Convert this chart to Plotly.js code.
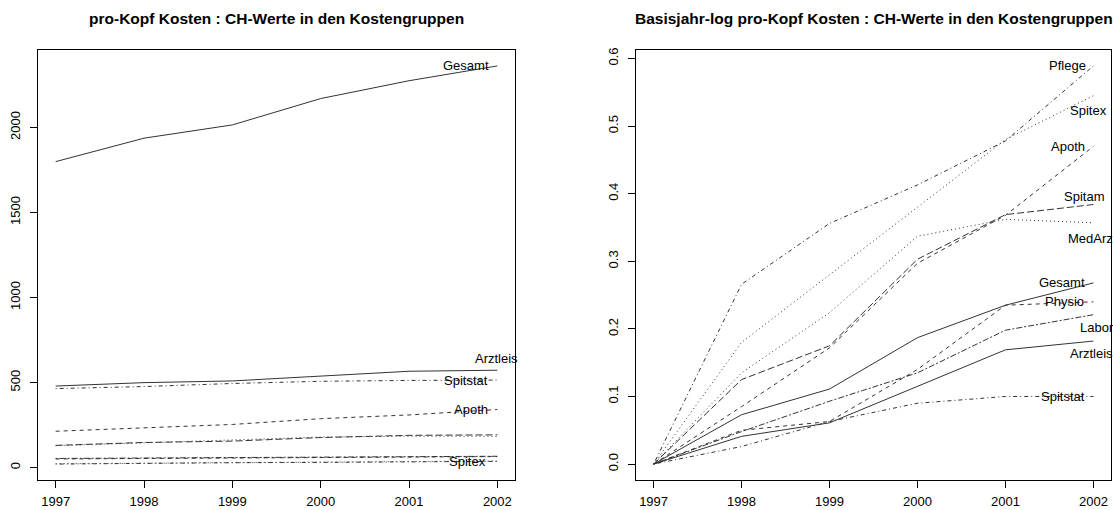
<!DOCTYPE html>
<html>
<head>
<meta charset="utf-8">
<script src="https://cdn.plot.ly/plotly-3.0.1.min.js"></script>
<style>html,body{margin:0;padding:0;background:#fff}#chart{width:1113px;height:510px}</style>
</head>
<body>
<div id="chart"></div>
<script>
// ---- data ----
const years = [1997, 1998, 1999, 2000, 2001, 2002];
const seriesNames = ["Gesamt","Arztleis","Spitstat","Apoth","Spitam","MedArz","Physio","Labor","Pflege","Spitex"];

// left panel: per-capita costs (CHF)
const costGesamt   = [1799, 1937, 2015, 2170, 2275, 2362];
const costArztleis = [479, 499, 509, 537, 566, 572];
const costSpitstat = [464, 476, 494, 507, 512, 514];
const costApoth    = [213, 232, 253, 287, 309, 341];
const costSpitam   = [130, 147, 155, 176, 189, 192];
const costMedArz   = [128, 146, 160, 179, 184, 183];
const costPhysio   = [50, 53, 53, 57, 63, 64];
const costLabor    = [53, 56, 58, 61, 65, 66];
const costPflege   = [20, 26, 28, 30, 32, 36];
const costSpitex   = [22, 26, 29, 32, 36, 38];

// right panel: log growth relative to base year
const logGesamt   = [0, 0.073, 0.111, 0.187, 0.235, 0.268];
const logArztleis = [0, 0.041, 0.061, 0.115, 0.169, 0.182];
const logSpitstat = [0, 0.026, 0.063, 0.090, 0.100, 0.100];
const logApoth    = [0, 0.085, 0.172, 0.297, 0.368, 0.470];
const logSpitam   = [0, 0.125, 0.175, 0.303, 0.369, 0.384];
const logMedArz   = [0, 0.135, 0.224, 0.337, 0.362, 0.357];
const logPhysio   = [0, 0.050, 0.063, 0.140, 0.235, 0.240];
const logLabor    = [0, 0.048, 0.093, 0.135, 0.198, 0.221];
const logPflege   = [0, 0.266, 0.356, 0.413, 0.478, 0.589];
const logSpitex   = [0, 0.180, 0.280, 0.380, 0.480, 0.545];

const leftTicks = [0, 500, 1000, 1500, 2000];
const rightTicks = [0, 0.1, 0.2, 0.3, 0.4, 0.5, 0.6];
const leftLabelled = ["Gesamt","Arztleis","Spitstat","Apoth","Spitex"];

const leftData = [costGesamt,costArztleis,costSpitstat,costApoth,costSpitam,costMedArz,costPhysio,costLabor,costPflege,costSpitex];
const rightData = [logGesamt,logArztleis,logSpitstat,logApoth,logSpitam,logMedArz,logPhysio,logLabor,logPflege,logSpitex];

// ---- styles ----
const dashes = {
  Gesamt:"solid", Arztleis:"solid", Spitstat:"1px,3px,4px,3px", Apoth:"4px,4px",
  Spitam:"7px,3px", MedArz:"1px,3px", Physio:"4px,4px", Labor:"2px,2px,6px,2px",
  Pflege:"1px,3px,4px,3px", Spitex:"1px,3px"
};
// label placement: [xanchor, xshift, yshift]
const leftLabelPos = {
  Gesamt:["right",-6,0], Arztleis:["left",-24,12], Spitstat:["right",-7,0],
  Apoth:["right",-7,0], Spitex:["right",-9,0]
};
const rightLabelPos = {
  Pflege:["right",-5,0], Spitex:["left",-25,-15], Apoth:["right",-6,0],
  Spitam:["left",-31,8], MedArz:["left",-27,-16], Gesamt:["right",-6,0],
  Physio:["right",-7,0], Labor:["left",-15,-13], Arztleis:["left",-25,-12],
  Spitstat:["right",-6,0]
};

const FONT = "Liberation Sans, Arial, sans-serif";
const W = 1113, H = 510;
const box = {l1:38, r1:515, l2:636, r2:1111, top:50, bottom:480};

function rRange(arrs) {
  let mn = Infinity, mx = -Infinity;
  arrs.forEach(a => a.forEach(v => { mn = Math.min(mn, v); mx = Math.max(mx, v); }));
  const s = mx - mn;
  return [mn - 0.04 * s, mx + 0.04 * s];
}
const xr = [years[0] - 0.04 * (years[5] - years[0]), years[5] + 0.04 * (years[5] - years[0])];

const traces = [];
const annotations = [];
seriesNames.forEach((name, i) => {
  const line = {color:"#333", width:1, dash:dashes[name]};
  traces.push({x:years, y:leftData[i], type:"scatter", mode:"lines", line:line, xaxis:"x", yaxis:"y", showlegend:false, hoverinfo:"skip"});
  traces.push({x:years, y:rightData[i], type:"scatter", mode:"lines", line:line, xaxis:"x2", yaxis:"y2", showlegend:false, hoverinfo:"skip"});
  if (leftLabelled.includes(name)) {
    const p = leftLabelPos[name];
    annotations.push({x:years[5], y:leftData[i][5], xref:"x", yref:"y", text:name, showarrow:false,
      xanchor:p[0], yanchor:"middle", xshift:p[1], yshift:p[2], font:{family:FONT, size:13, color:"#000"}});
  }
  const q = rightLabelPos[name];
  annotations.push({x:years[5], y:rightData[i][5], xref:"x2", yref:"y2", text:name, showarrow:false,
    xanchor:q[0], yanchor:"middle", xshift:q[1], yshift:q[2], font:{family:FONT, size:13, color:"#000"}});
});

annotations.push({text:"<b>pro-Kopf Kosten : CH-Werte in den Kostengruppen</b>", xref:"paper", yref:"paper",
  x:(box.l1 + box.r1) / 2 / W, y:1 - 19 / H, xanchor:"center", yanchor:"middle", showarrow:false,
  font:{family:FONT, size:15.5, color:"#000"}});
annotations.push({text:"<b>Basisjahr-log pro-Kopf Kosten : CH-Werte in den Kostengruppen</b>", xref:"paper", yref:"paper",
  x:(box.l2 + box.r2) / 2 / W, y:1 - 19 / H, xanchor:"center", yanchor:"middle", showarrow:false,
  font:{family:FONT, size:15.5, color:"#000"}});

const axisCommon = {showline:true, mirror:true, linecolor:"#000", linewidth:1, ticks:"outside", ticklen:7,
  tickcolor:"#000", tickwidth:1, showgrid:false, zeroline:false, tickfont:{family:FONT, size:13, color:"#000"}};
const ydom = [(H - box.bottom) / H, (H - box.top) / H];

const layout = {
  width:W, height:H, margin:{l:0, r:0, t:0, b:0}, paper_bgcolor:"#fff", plot_bgcolor:"#fff",
  showlegend:false,
  xaxis:Object.assign({}, axisCommon, {domain:[box.l1 / W, box.r1 / W], range:xr, tickvals:years, anchor:"y", ticklabelstandoff:2}),
  yaxis:Object.assign({}, axisCommon, {domain:ydom, range:rRange(leftData), tickvals:leftTicks, tickangle:-90, anchor:"x", ticklabelstandoff:5}),
  xaxis2:Object.assign({}, axisCommon, {domain:[box.l2 / W, box.r2 / W], range:xr, tickvals:years, anchor:"y2", ticklabelstandoff:2}),
  yaxis2:Object.assign({}, axisCommon, {domain:ydom, range:rRange(rightData), tickvals:rightTicks, tickformat:".1f", tickangle:-90, anchor:"x2", ticklabelstandoff:5}),
  annotations:annotations
};

Plotly.newPlot("chart", traces, layout, {staticPlot:true, displayModeBar:false});
</script>
</body>
</html>
